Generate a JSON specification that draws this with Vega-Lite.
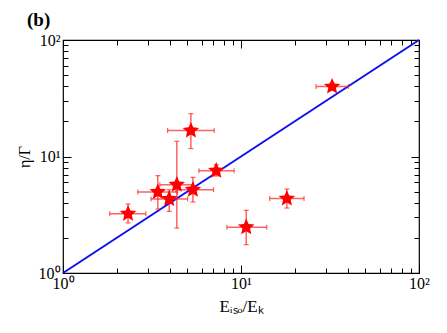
{
  "$schema": "https://vega.github.io/schema/vega-lite/v6.json",
  "width": 356,
  "height": 233,
  "autosize": "none",
  "padding": {"left": 63, "top": 40, "right": 28, "bottom": 60},
  "background": "white",
  "config": {"view": {"stroke": "black", "strokeWidth": 1.2}},
  "title": {"text": "(b)", "anchor": "start", "frame": "group", "dx": -36, "offset": 2, "font": "Liberation Serif", "fontSize": 19, "fontWeight": "bold", "color": "black"},
  "datasets": {
    "line": [{"x": 1, "y": 1}, {"x": 100, "y": 100}],
    "pts": [
      {"x": 2.32, "xlo": 1.83, "xhi": 2.92, "y": 3.23, "ylo": 2.69, "yhi": 3.91},
      {"x": 3.41, "xlo": 2.63, "xhi": 4.4, "y": 4.96, "ylo": 3.54, "yhi": 6.85},
      {"x": 3.95, "xlo": 3.12, "xhi": 5.01, "y": 4.32, "ylo": 3.38, "yhi": 5.19},
      {"x": 4.36, "xlo": 3.5, "xhi": 5.4, "y": 5.73, "ylo": 2.43, "yhi": 13.5},
      {"x": 5.37, "xlo": 4.3, "xhi": 7.01, "y": 5.19, "ylo": 4.07, "yhi": 6.62},
      {"x": 5.23, "xlo": 3.87, "xhi": 7.07, "y": 16.7, "ylo": 11.7, "yhi": 23.3},
      {"x": 7.26, "xlo": 5.8, "xhi": 9.15, "y": 7.56, "ylo": 6.8, "yhi": 8.5},
      {"x": 10.7, "xlo": 8.33, "xhi": 13.96, "y": 2.47, "ylo": 1.75, "yhi": 3.45},
      {"x": 18.1, "xlo": 14.5, "xhi": 22.6, "y": 4.35, "ylo": 3.61, "yhi": 5.26},
      {"x": 32.5, "xlo": 26.4, "xhi": 40.1, "y": 39.8, "ylo": 37.0, "yhi": 43.0}
    ]
  },
  "resolve": {"axis": {"x": "independent", "y": "independent"}},
  "layer": [
    {
      "data": {"name": "line"},
      "mark": {"type": "line", "color": "#1010ee", "strokeWidth": 2},
      "encoding": {
        "x": {"field": "x", "type": "quantitative", "scale": {"type": "log", "domain": [1, 100], "nice": false},
          "axis": {"orient": "bottom", "values": [1,2,3,4,5,6,7,8,9,10,20,30,40,50,60,70,80,90,100], "grid": false, "domain": false,
            "labelExpr": "datum.value==1?'10⁰':datum.value==10?'10¹':datum.value==100?'10²':''",
            "tickColor": "black", "tickWidth": 1,
            "tickSize": {"condition": {"test": "datum.value==1||datum.value==10||datum.value==100", "value": -8}, "value": -5},
            "labelFont": "Liberation Serif", "labelFontSize": 16, "labelColor": "black", "labelPadding": 10, "labelFlush": false, "labelOverlap": false,
            "title": "Eᵢₛₒ/Eₖ", "titleFont": "Liberation Serif", "titleFontSize": 17, "titleFontWeight": "normal", "titleColor": "black", "titlePadding": 4}},
        "y": {"field": "y", "type": "quantitative", "scale": {"type": "log", "domain": [1, 100], "nice": false},
          "axis": {"orient": "left", "values": [1,2,3,4,5,6,7,8,9,10,20,30,40,50,60,70,80,90,100], "grid": false, "domain": false,
            "labelExpr": "datum.value==1?'10⁰':datum.value==10?'10¹':datum.value==100?'10²':''",
            "tickColor": "black", "tickWidth": 1,
            "tickSize": {"condition": {"test": "datum.value==1||datum.value==10||datum.value==100", "value": -8}, "value": -5},
            "labelFont": "Liberation Serif", "labelFontSize": 16, "labelColor": "black", "labelPadding": 11, "labelFlush": false, "labelOverlap": false,
            "title": "η/Γ", "titleFont": "Liberation Serif", "titleFontSize": 16, "titleFontWeight": "normal", "titleColor": "black", "titlePadding": 6}}
      }
    },
    {
      "data": {"name": "line"},
      "mark": {"type": "line", "opacity": 0},
      "encoding": {
        "x": {"field": "x", "type": "quantitative",
          "axis": {"orient": "top", "values": [1,2,3,4,5,6,7,8,9,10,20,30,40,50,60,70,80,90,100], "grid": false, "domain": false, "labels": false, "title": null,
            "tickColor": "black", "tickWidth": 1,
            "tickSize": {"condition": {"test": "datum.value==1||datum.value==10||datum.value==100", "value": -8}, "value": -5}}},
        "y": {"field": "y", "type": "quantitative",
          "axis": {"orient": "right", "values": [1,2,3,4,5,6,7,8,9,10,20,30,40,50,60,70,80,90,100], "grid": false, "domain": false, "labels": false, "title": null,
            "tickColor": "black", "tickWidth": 1,
            "tickSize": {"condition": {"test": "datum.value==1||datum.value==10||datum.value==100", "value": -8}, "value": -5}}}
      }
    },
    {
      "data": {"name": "pts"},
      "mark": {"type": "rule", "color": "#ff2020", "opacity": 0.7, "strokeWidth": 1.5},
      "encoding": {
        "x": {"field": "xlo", "type": "quantitative", "axis": null},
        "x2": {"field": "xhi"},
        "y": {"field": "y", "type": "quantitative", "axis": null}
      }
    },
    {
      "data": {"name": "pts"},
      "mark": {"type": "rule", "color": "#ff2020", "opacity": 0.7, "strokeWidth": 1.5},
      "encoding": {
        "x": {"field": "x", "type": "quantitative", "axis": null},
        "y": {"field": "ylo", "type": "quantitative", "axis": null},
        "y2": {"field": "yhi"}
      }
    },
    {
      "data": {"name": "pts"},
      "mark": {"type": "tick", "orient": "vertical", "color": "#ff2020", "opacity": 0.7, "thickness": 1.2, "size": 5},
      "encoding": {
        "x": {"field": "xlo", "type": "quantitative", "axis": null},
        "y": {"field": "y", "type": "quantitative", "axis": null}
      }
    },
    {
      "data": {"name": "pts"},
      "mark": {"type": "tick", "orient": "vertical", "color": "#ff2020", "opacity": 0.7, "thickness": 1.2, "size": 5},
      "encoding": {
        "x": {"field": "xhi", "type": "quantitative", "axis": null},
        "y": {"field": "y", "type": "quantitative", "axis": null}
      }
    },
    {
      "data": {"name": "pts"},
      "mark": {"type": "tick", "orient": "horizontal", "color": "#ff2020", "opacity": 0.7, "thickness": 1.2, "size": 5},
      "encoding": {
        "x": {"field": "x", "type": "quantitative", "axis": null},
        "y": {"field": "ylo", "type": "quantitative", "axis": null}
      }
    },
    {
      "data": {"name": "pts"},
      "mark": {"type": "tick", "orient": "horizontal", "color": "#ff2020", "opacity": 0.7, "thickness": 1.2, "size": 5},
      "encoding": {
        "x": {"field": "x", "type": "quantitative", "axis": null},
        "y": {"field": "yhi", "type": "quantitative", "axis": null}
      }
    },
    {
      "data": {"name": "pts"},
      "mark": {"type": "point", "filled": true, "color": "#ff0000", "opacity": 1, "size": 300,
        "shape": "M0,-1L0.27,-0.37L0.9511,-0.309L0.44,0.14L0.5878,0.809L0,0.46L-0.5878,0.809L-0.44,0.14L-0.9511,-0.309L-0.27,-0.37Z"},
      "encoding": {
        "x": {"field": "x", "type": "quantitative", "axis": null},
        "y": {"field": "y", "type": "quantitative", "axis": null}
      }
    }
  ]
}
